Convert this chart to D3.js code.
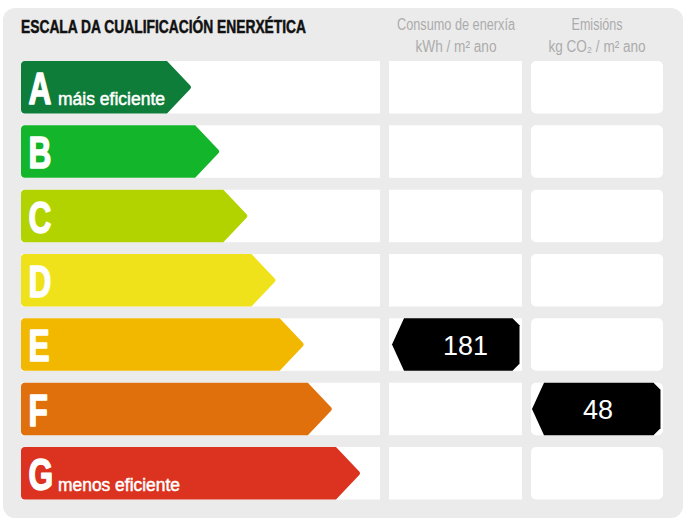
<!DOCTYPE html>
<html><head><meta charset="utf-8">
<script src="https://cdn.jsdelivr.net/npm/d3@7"></script>
<style>html,body{margin:0;padding:0;background:#fff;}svg{display:block;}</style>
</head><body>
<svg id="c" width="692" height="525"></svg>
<script>
const categories = ["A","B","C","D","E","F","G"];
const colors = ["#0f7d3a","#13b52a","#b2d300","#efe21a","#f2b800","#e0700c","#dc3320"];
const subLabels = {A:"máis eficiente", G:"menos eficiente"};
const subLabelWidths = {A:107, G:122};
const consumption = {category:"E", value:181};
const emissions = {category:"F", value:48};
const title = "ESCALA DA CUALIFICACIÓN ENERXÉTICA";
const col2Header = ["Consumo de enerxía","kWh / m² ano"];
const col3Header = ["Emisións","kg CO₂ / m² ano"];

const svg = d3.select("#c");
const sans = "'Liberation Sans',Arial,sans-serif";

// panel
svg.append("rect").attr("x",3).attr("y",8).attr("width",680).attr("height",510)
  .attr("rx",12).attr("fill","#ebebeb");

const y = d3.scaleBand().domain(categories).range([61,499.5]).paddingInner(0.184).paddingOuter(0);
const tip = d3.scaleLinear().domain([0,6]).range([192,361]);

// column backgrounds
const cols = [{x0:21,x1:380,r:0},{x0:389,x1:522,r:0},{x0:531,x1:663,r:5}];
categories.forEach(c=>{
  cols.forEach(col=>{
    svg.append("rect").attr("x",col.x0).attr("y",y(c)).attr("width",col.x1-col.x0)
      .attr("height",y.bandwidth()).attr("rx",col.r).attr("fill","#fff");
  });
});

// arrows
const bw = y.bandwidth();
categories.forEach((c,i)=>{
  const x0=21, t=tip(i), y0=y(c), y1=y0+bw, ym=y0+bw/2, b=t-25, r=4;
  const p = `M${x0+r},${y0} L${b},${y0} L${t-2},${ym-2} Q${t},${ym} ${t-2},${ym+2} L${b},${y1} L${x0+r},${y1} Q${x0},${y1} ${x0},${y1-r} L${x0},${y0+r} Q${x0},${y0} ${x0+r},${y0} Z`;
  svg.append("path").attr("d",p).attr("fill",colors[i]);
  svg.append("g").attr("transform",`translate(28.5,${y0+43}) scale(0.72,1)`)
    .append("text").text(c)
    .attr("font-family",sans).attr("font-weight","bold").attr("font-size",44).attr("fill","#fff")
    .attr("stroke","#fff").attr("stroke-width",1.6).attr("stroke-linejoin","round");
  if(subLabels[c]){
    svg.append("text").attr("x",58).attr("y",y0+44).text(subLabels[c])
      .attr("font-family",sans).attr("font-size",18).attr("fill","#fff")
      .attr("stroke","#fff").attr("stroke-width",0.5)
      .attr("textLength",subLabelWidths[c]).attr("lengthAdjust","spacingAndGlyphs");
  }
});

// title
svg.append("text").attr("x",21).attr("y",33).text(title)
  .attr("font-family",sans).attr("font-weight","bold").attr("font-size",18).attr("fill","#111")
  .attr("stroke","#111").attr("stroke-width",0.5)
  .attr("textLength",285).attr("lengthAdjust","spacingAndGlyphs");

function header(lines, widths, cx){
  svg.append("text").attr("x",cx).attr("y",30).attr("text-anchor","middle").text(lines[0])
    .attr("font-family",sans).attr("font-size",16).attr("fill","#ababab")
    .attr("textLength",widths[0]).attr("lengthAdjust","spacingAndGlyphs");
  svg.append("text").attr("x",cx).attr("y",52).attr("text-anchor","middle").text(lines[1])
    .attr("font-family",sans).attr("font-size",16).attr("fill","#ababab")
    .attr("textLength",widths[1]).attr("lengthAdjust","spacingAndGlyphs");
}
header(col2Header,[118,81],456);
header(col3Header,[51,97],597);

// value markers
function marker(d, col, dx){
  const y0=y(d.category), y1=y0+bw, ym=y0+bw/2;
  const x0=col.x0+dx, x1=col.x1-2.5, s=12, ch=7;
  const p=`M${x0},${ym} L${x0+s},${y0} L${x1-ch},${y0} L${x1},${y0+ch} L${x1},${y1-ch} L${x1-ch},${y1} L${x0+s},${y1} Z`;
  svg.append("path").attr("d",p).attr("fill","#000");
  svg.append("text").attr("x",x0+51).attr("y",ym+10)
    .text(d.value).attr("font-family",sans).attr("font-size",27).attr("fill","#fff");
}
marker(consumption, cols[1], 3);
marker(emissions, cols[2], 1);
</script>
</body></html>
